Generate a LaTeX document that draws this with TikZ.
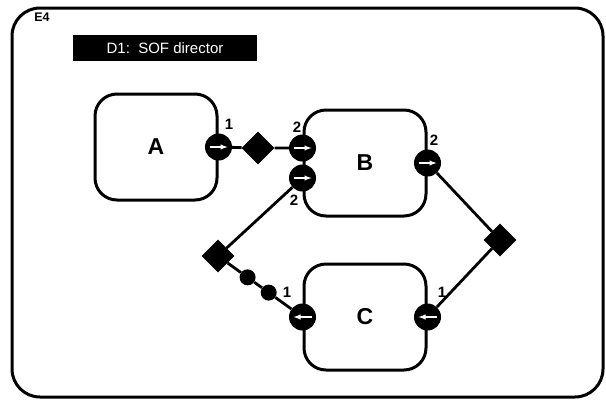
\documentclass[tikz,border=0pt]{standalone}
\usepackage{fontspec}
\setmainfont{Liberation Sans}
\usetikzlibrary{arrows,calc,shapes.geometric}

\begin{document}
\begin{tikzpicture}[x=1pt, y=-1pt,
    box/.style={draw, line width=3pt, rounded corners=22pt, minimum width=122pt, minimum height=106pt, font=\fontsize{23}{26}\selectfont\bfseries},
    port/.style={circle, fill=black, minimum size=27pt, inner sep=0pt},
    portr/.style={port, path picture={\draw[white, line width=1.4pt, -latex] ([xshift=-9pt]path picture bounding box.center) -- ([xshift=9pt]path picture bounding box.center);}},
    portl/.style={port, path picture={\draw[white, line width=1.4pt, -latex] ([xshift=9pt]path picture bounding box.center) -- ([xshift=-9pt]path picture bounding box.center);}},
    num/.style={font=\fontsize{15}{17}\selectfont\bfseries},
    link/.style={line width=2.8pt},
    joint/.style={diamond, fill=black, minimum size=33pt, inner sep=0pt},
    bead/.style={circle, fill=black, minimum size=16pt, inner sep=0pt}]
    \useasboundingbox (0,0) rectangle (606,400);

    % Frame and title
    \draw[line width=3pt, rounded corners=28pt] (12,8) rectangle (603,397);
    \node[font=\fontsize{12.5}{14}\selectfont\bfseries] (e4) at (42,17) {E4};
    \node[fill=black, text=white, minimum width=184pt, minimum height=26pt, font=\fontsize{15}{17}\selectfont] (title) at (165,48) {D1:~~SOF director};

    % Boxes
    \node[box] (A) at (156,147) {A};
    \node[box] (B) at (365,163) {B};
    \node[box] (C) at (365,317) {C};

    % Ports
    \node[portr] (pa) at (A.east) {};
    \node[portr] (pb1) at ($(B.west)+(0,-15)$) {};
    \node[portr] (pb2) at ($(B.west)+(0,15)$) {};
    \node[portr] (pb3) at (B.east) {};
    \node[portl] (pc1) at (C.west) {};
    \node[portl] (pc2) at (C.east) {};

    % Joints
    \node[joint] (jab) at (258,148) {};
    \node[joint] (jl) at (218,256) {};
    \node[joint] (jr) at (500,240) {};
    \node[bead] (b1) at ($(jl)!0.35!(pc1)$) {};
    \node[bead] (b2) at ($(jl)!0.60!(pc1)$) {};

    % Links
    \draw[link] (pa) -- (jab) -- (pb1);
    \draw[link] (pb2) -- (jl) -- (b1) -- (b2) -- (pc1);
    \draw[link] (pb3) -- (jr) -- (pc2);

    % Port numbers
    \node[num] (na) at (229,124) {1};
    \node[num] (nb1) at (297,127) {2};
    \node[num] (nb2) at (294,200) {2};
    \node[num] (nb3) at (434,140) {2};
    \node[num] (nc1) at (287,292) {1};
    \node[num] (nc2) at (442,292) {1};
\end{tikzpicture}
\end{document}
